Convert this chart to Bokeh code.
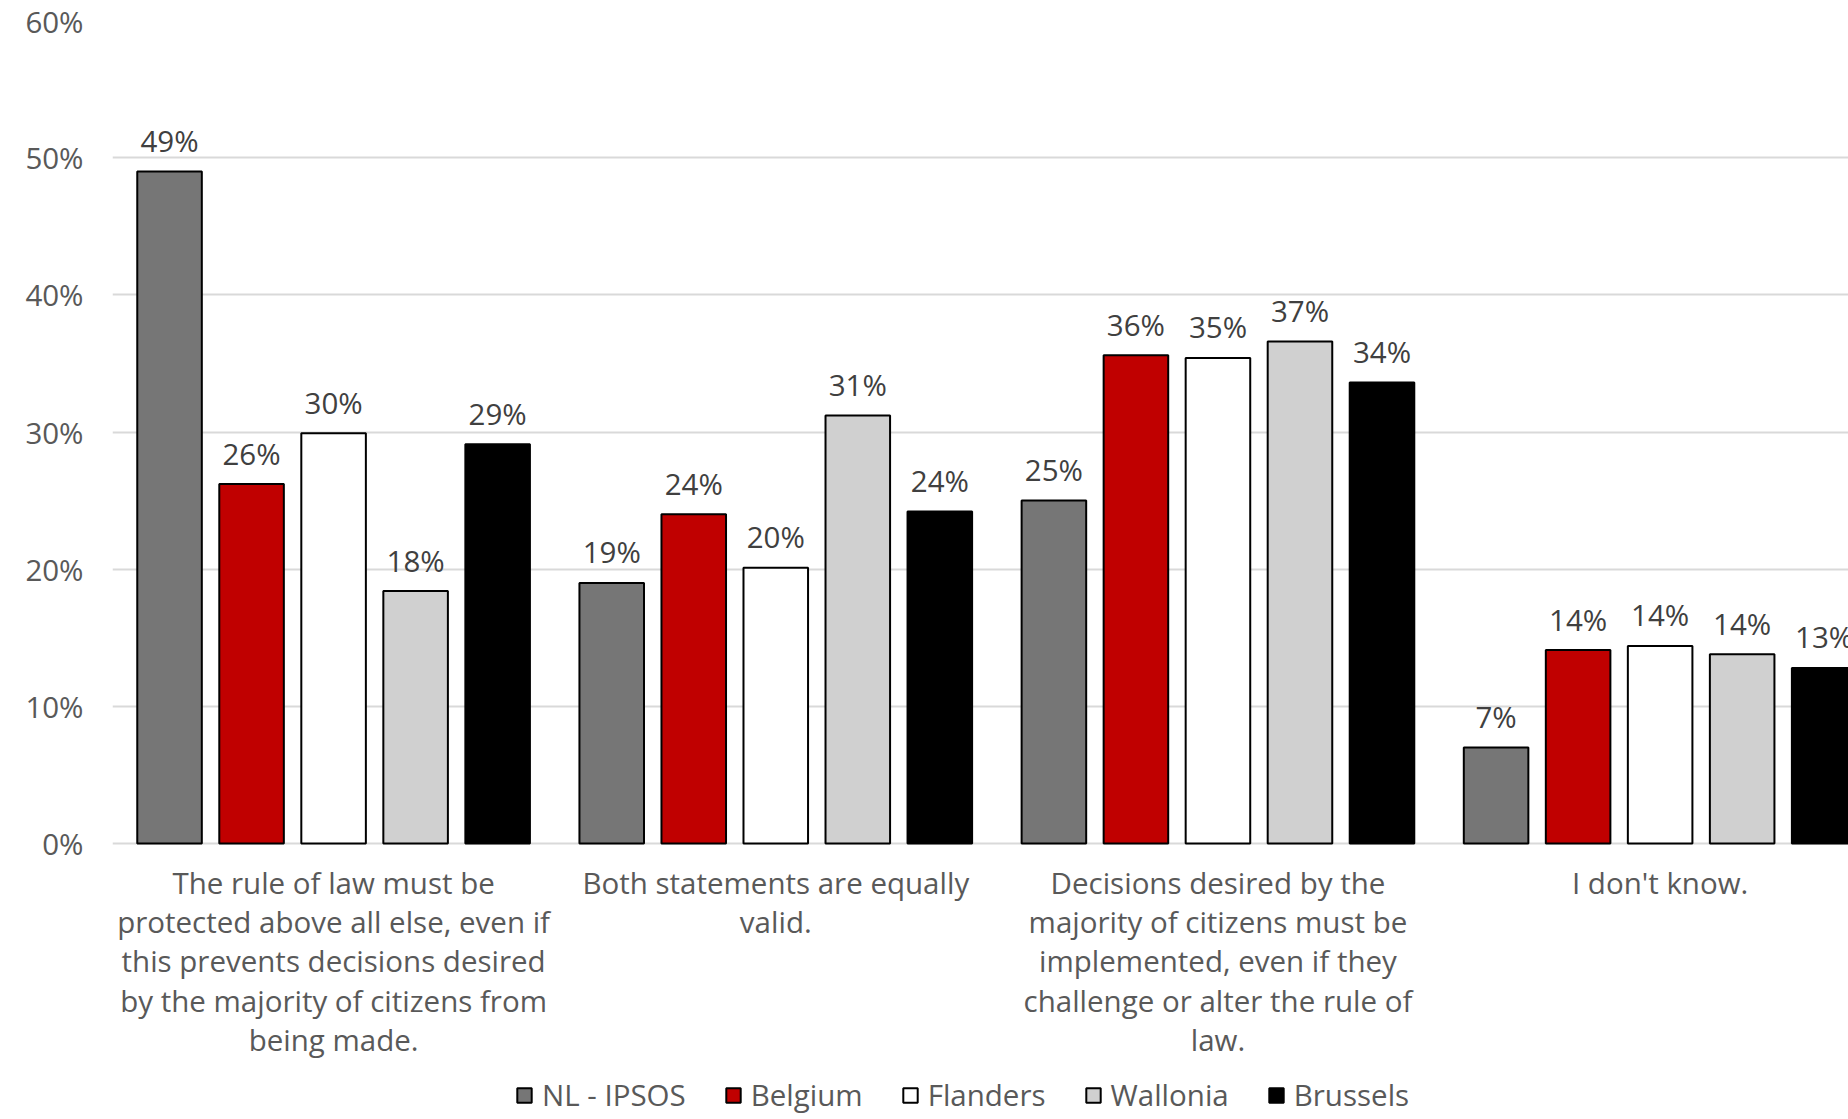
from bokeh.plotting import figure
from bokeh.models import ColumnDataSource, Range1d, FixedTicker, PrintfTickFormatter, Legend, LegendItem
from bokeh.transform import dodge
from bokeh.core.properties import value
from bokeh.embed import file_html
from bokeh.resources import INLINE

categories = [
    "The rule of law must be\nprotected above all else, even if\nthis prevents decisions desired\nby the majority of citizens from\nbeing made.",
    "Both statements are equally\nvalid.",
    "Decisions desired by the\nmajority of citizens must be\nimplemented, even if they\nchallenge or alter the rule of\nlaw.",
    "I don't know.",
]
series = ["NL - IPSOS", "Belgium", "Flanders", "Wallonia", "Brussels"]
nl_ipsos = [49.0, 19.0, 25.0, 7.0]
belgium = [26.2, 24.0, 35.6, 14.1]
flanders = [29.9, 20.1, 35.4, 14.4]
wallonia = [18.4, 31.2, 36.6, 13.8]
brussels = [29.1, 24.2, 33.6, 12.8]
y_ticks = [0, 10, 20, 30, 40, 50, 60]

colors = ["#767676", "#C00000", "#FFFFFF", "#D0D0D0", "#000000"]
values_all = [nl_ipsos, belgium, flanders, wallonia, brussels]

FONT = value("Open Sans")
FS = "29.5px"

xs = [i + 0.5 for i in range(len(categories))]
data = dict(x=xs, cat=categories)
for j, vals in enumerate(values_all):
    data[f"s{j}"] = vals
    data[f"t{j}"] = [f"{round(v)}%" for v in vals]
src = ColumnDataSource(data)

# frame spans from the 60% line down to the bottom of the canvas; the area
# below 0% holds the category texts and the legend
H = 1115
TOP = 20
ZERO_PX = 843
px_per_unit = (ZERO_PX - TOP) / 60.0
y_start = -(H - ZERO_PX) / px_per_unit

p = figure(width=1848, height=H, output_backend="svg", toolbar_location=None,
           x_range=Range1d(0, 3.926), y_range=Range1d(y_start, 60),
           min_border_left=112, min_border_right=0, min_border_top=TOP, min_border_bottom=0)
p.outline_line_color = None
p.background_fill_color = "white"
p.border_fill_color = "white"
p.xgrid.grid_line_color = None
p.ygrid.grid_line_color = "#D9D9D9"
p.ygrid.grid_line_width = 2
p.ygrid.ticker = FixedTicker(ticks=y_ticks)
p.xaxis.visible = False

step = 0.1855
bw = 0.146
items = []
for j, name in enumerate(series):
    off = (j - 2) * step
    r = p.vbar(x=dodge("x", off), top=f"s{j}", bottom=0, width=bw, source=src,
               fill_color=colors[j], line_color="black", line_width=2)
    p.text(x=dodge("x", off), y=f"s{j}", text=f"t{j}", source=src,
           text_align="center", text_baseline="alphabetic", y_offset=-31,
           text_font=FONT, text_font_size=FS, text_color="#404040")
    items.append(LegendItem(label=name, renderers=[r]))

# category texts under the bars
p.text(x="x", y=0, text="cat", source=src, text_align="center", text_baseline="top",
       y_offset=18, text_line_height=0.96, text_font=FONT, text_font_size=FS,
       text_color="#595959")

# y axis
p.yaxis.ticker = FixedTicker(ticks=y_ticks)
p.yaxis.formatter = PrintfTickFormatter(format="%d%%")
p.yaxis.axis_line_color = None
p.yaxis.major_tick_line_color = None
p.yaxis.minor_tick_line_color = None
p.yaxis.major_tick_out = 0
p.yaxis.major_tick_in = 0
p.yaxis.major_label_standoff = 29
p.yaxis.major_label_text_font = "Open Sans"
p.yaxis.major_label_text_font_size = FS
p.yaxis.major_label_text_color = "#595959"

legend = Legend(items=items, orientation="horizontal", location=(403, 0),
                glyph_width=18, glyph_height=18, label_standoff=9, spacing=38,
                padding=0, margin=0, border_line_color=None, background_fill_alpha=0,
                label_text_font="Open Sans", label_text_font_size=FS,
                label_text_color="#595959")
p.add_layout(legend, "center")

open("out.html", "w").write(file_html(p, INLINE))
